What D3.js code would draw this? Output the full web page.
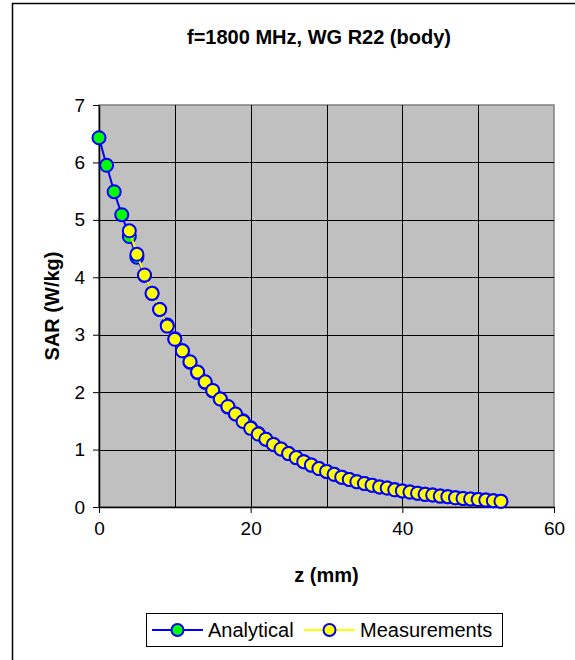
<!DOCTYPE html>
<html>
<head>
<meta charset="utf-8">
<script src="https://cdn.jsdelivr.net/npm/d3@7"></script>
<style>
  body { margin: 0; background: #fff; }
  svg { display: block; font-family: "Liberation Sans", Arial, sans-serif; }
</style>
</head>
<body>
<div id="chart"></div>
<script>
// Depth (mm) and SAR values (W/kg)
const analyticalZ = d3.range(0, 54);
const analyticalSar = [
    6.43, 5.95, 5.49, 5.09, 4.71, 4.35, 4.03, 3.72, 3.44, 3.17,
    2.93, 2.72, 2.52, 2.34, 2.17, 2.02, 1.88, 1.74, 1.62, 1.50,
    1.38, 1.28, 1.18, 1.09, 1.01, 0.93, 0.86, 0.79, 0.73, 0.67,
    0.62, 0.57, 0.52, 0.48, 0.44, 0.41, 0.38, 0.35, 0.33, 0.30,
    0.28, 0.26, 0.24, 0.22, 0.21, 0.19, 0.18, 0.16, 0.15, 0.14,
    0.13, 0.12, 0.11, 0.10
];
const measurementZ = d3.range(4, 54);
const measurementSar = [
    4.81, 4.40, 4.04, 3.72, 3.44, 3.15, 2.92, 2.72, 2.53, 2.35,
    2.18, 2.03, 1.88, 1.75, 1.62, 1.49, 1.37, 1.27, 1.18, 1.09,
    1.01, 0.93, 0.86, 0.79, 0.73, 0.67, 0.62, 0.57, 0.52, 0.48,
    0.44, 0.41, 0.38, 0.35, 0.33, 0.30, 0.28, 0.26, 0.24, 0.22,
    0.21, 0.19, 0.18, 0.16, 0.15, 0.14, 0.13, 0.12, 0.11, 0.10
];
const xTicks = [0, 20, 40, 60];
const xGrid = [10, 20, 30, 40, 50];
const yTicks = [0, 1, 2, 3, 4, 5, 6, 7];
const seriesNames = ["Analytical", "Measurements"];

const W = 575, H = 660;
const plot = { left: 99, right: 554, top: 105, bottom: 507 };
const markerR = 6.5;

const svg = d3.select("#chart").append("svg")
    .attr("width", W)
    .attr("height", H);

svg.append("rect")
    .attr("width", W).attr("height", H)
    .attr("fill", "#fff");

// outer chart border (cut off on right and bottom)
svg.append("rect")
    .attr("x", 12.5).attr("y", 3.5)
    .attr("width", 800).attr("height", 800)
    .attr("fill", "none")
    .attr("stroke", "#000")
    .attr("stroke-width", 1.5);

const x = d3.scaleLinear().domain([0, 60]).range([plot.left, plot.right]);
const y = d3.scaleLinear().domain([0, 7]).range([plot.bottom, plot.top]);

// plot area
svg.append("rect")
    .attr("x", plot.left).attr("y", plot.top)
    .attr("width", plot.right - plot.left)
    .attr("height", plot.bottom - plot.top)
    .attr("fill", "#c0c0c0")
    .attr("stroke", "#808080")
    .attr("stroke-width", 1.5);

// grid lines
svg.append("g").selectAll("line")
    .data(xGrid)
    .enter().append("line")
    .attr("x1", d => Math.round(x(d)) + 0.5)
    .attr("x2", d => Math.round(x(d)) + 0.5)
    .attr("y1", plot.top)
    .attr("y2", plot.bottom)
    .attr("stroke", "#000");

svg.append("g").selectAll("line")
    .data(yTicks.filter(d => d > 0 && d < 7))
    .enter().append("line")
    .attr("x1", plot.left)
    .attr("x2", plot.right)
    .attr("y1", d => Math.round(y(d)) + 0.5)
    .attr("y2", d => Math.round(y(d)) + 0.5)
    .attr("stroke", "#000");

// axes
const xAxis = svg.append("g")
    .attr("transform", `translate(0,${plot.bottom})`)
    .call(d3.axisBottom(x).tickValues(xTicks).tickFormat(d3.format("d"))
        .tickSize(6).tickPadding(9).tickSizeOuter(0));

const yAxis = svg.append("g")
    .attr("transform", `translate(${plot.left},0)`)
    .call(d3.axisLeft(y).tickValues(yTicks).tickFormat(d3.format("d"))
        .tickSize(6).tickPadding(8).tickSizeOuter(0));

[xAxis, yAxis].forEach(a => {
    a.select(".domain").attr("stroke", "#000").attr("stroke-width", 1.5);
    a.selectAll(".tick line").attr("stroke", "#000");
    a.selectAll("text")
        .style("font-family", "'Liberation Sans', Arial, sans-serif")
        .style("font-size", "19px")
        .attr("fill", "#000");
});

// series
const line = d3.line()
    .x(d => x(d[0]))
    .y(d => y(d[1]));

const analytical = analyticalZ.map((z, i) => [z, analyticalSar[i]]);
const measurements = measurementZ.map((z, i) => [z, measurementSar[i]]);

svg.append("path")
    .datum(analytical)
    .attr("fill", "none")
    .attr("stroke", "#0000ff")
    .attr("stroke-width", 2)
    .attr("d", line);

svg.append("g").selectAll("circle")
    .data(analytical)
    .enter().append("circle")
    .attr("cx", d => x(d[0]))
    .attr("cy", d => y(d[1]))
    .attr("r", markerR)
    .attr("fill", "#00ff00")
    .attr("stroke", "#0000ff")
    .attr("stroke-width", 2);

svg.append("path")
    .datum(measurements)
    .attr("fill", "none")
    .attr("stroke", "#ffff00")
    .attr("stroke-width", 2)
    .attr("d", line);

svg.append("g").selectAll("circle")
    .data(measurements)
    .enter().append("circle")
    .attr("cx", d => x(d[0]))
    .attr("cy", d => y(d[1]))
    .attr("r", markerR)
    .attr("fill", "#ffff00")
    .attr("stroke", "#0000ff")
    .attr("stroke-width", 2);

// titles
svg.append("text")
    .attr("x", 319)
    .attr("y", 44)
    .attr("text-anchor", "middle")
    .style("font-size", "20px")
    .style("font-weight", "bold")
    .text("f=1800 MHz, WG R22 (body)");

svg.append("text")
    .attr("x", (plot.left + plot.right) / 2)
    .attr("y", 582)
    .attr("text-anchor", "middle")
    .style("font-size", "20px")
    .style("font-weight", "bold")
    .text("z (mm)");

svg.append("text")
    .attr("transform", `translate(52,${(plot.top + plot.bottom) / 2}) rotate(-90)`)
    .attr("dy", "0.35em")
    .attr("text-anchor", "middle")
    .style("font-size", "20px")
    .style("font-weight", "bold")
    .text("SAR (W/kg)");

// legend
const legend = svg.append("g");
legend.append("rect")
    .attr("x", 146.5).attr("y", 613.5)
    .attr("width", 356).attr("height", 33)
    .attr("fill", "#fff")
    .attr("stroke", "#000");

const legendItems = [
    { name: seriesNames[0], x0: 152, line: "#0000ff", fill: "#00ff00" },
    { name: seriesNames[1], x0: 304, line: "#ffff00", fill: "#ffff00" }
];
legendItems.forEach(item => {
    legend.append("line")
        .attr("x1", item.x0).attr("x2", item.x0 + 51)
        .attr("y1", 630).attr("y2", 630)
        .attr("stroke", item.line)
        .attr("stroke-width", 2);
    legend.append("circle")
        .attr("cx", item.x0 + 25.5).attr("cy", 630)
        .attr("r", 6)
        .attr("fill", item.fill)
        .attr("stroke", "#0000ff")
        .attr("stroke-width", 2);
    legend.append("text")
        .attr("x", item.x0 + 56)
        .attr("y", 637)
        .style("font-size", "20px")
        .text(item.name);
});
</script>
</body>
</html>
